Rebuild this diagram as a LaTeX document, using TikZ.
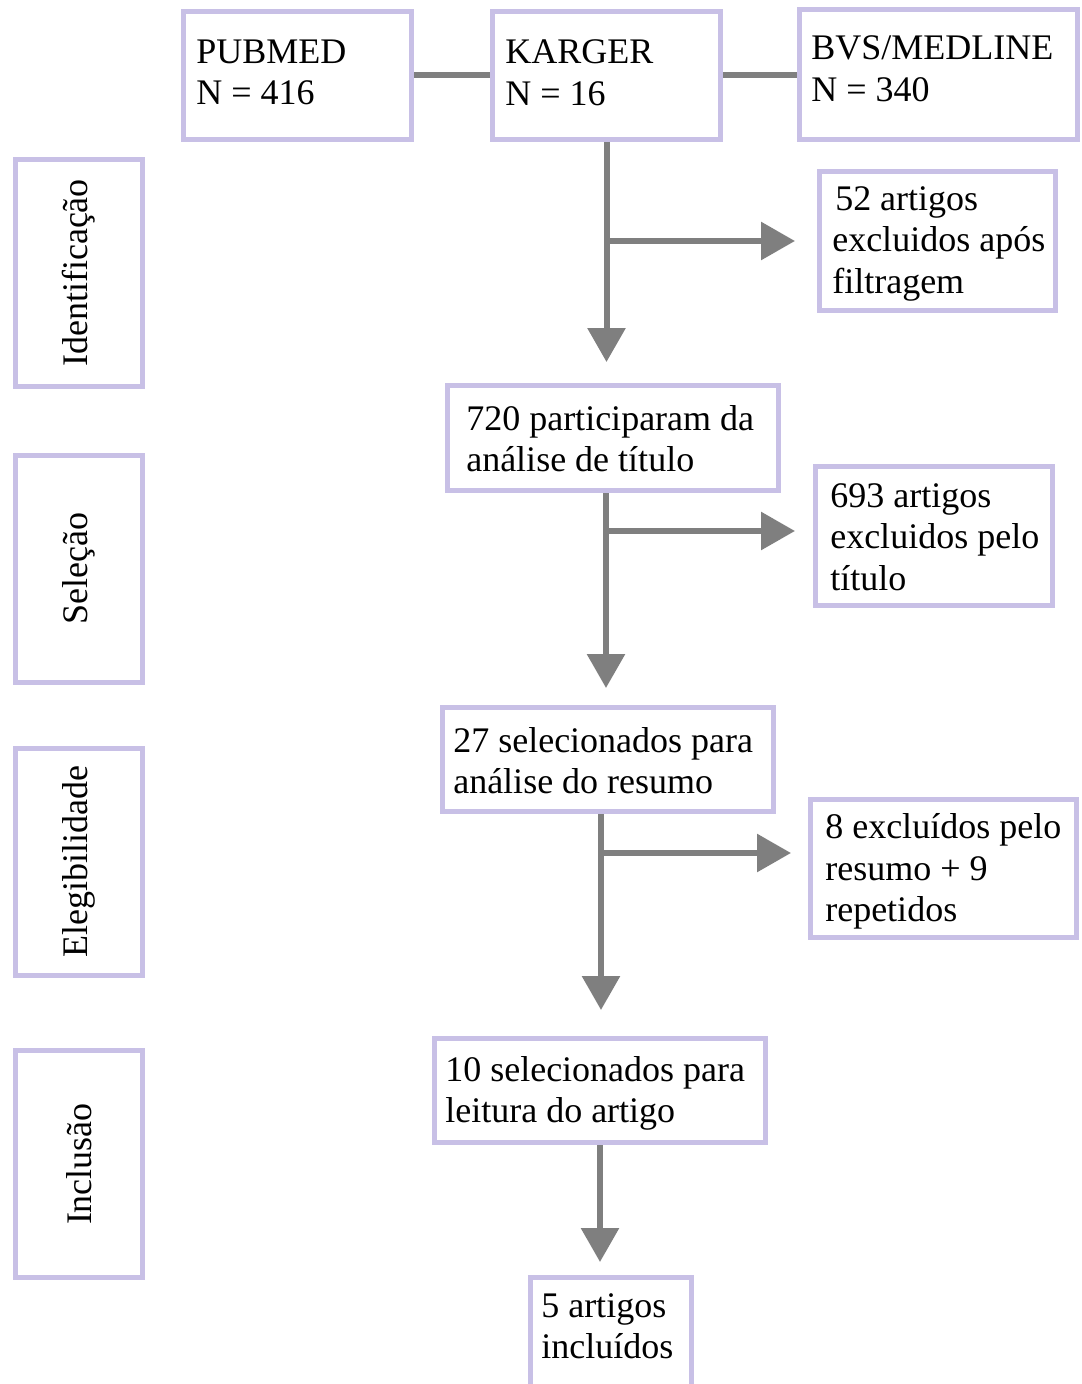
\documentclass[tikz,border=0pt]{standalone}
\usepackage{fontspec}
\setmainfont{Liberation Serif}
\usetikzlibrary{arrows.meta,calc}
\definecolor{boxc}{HTML}{C8C0E6}
\definecolor{arrc}{HTML}{7F7F7F}
\begin{document}
\begin{tikzpicture}[x=0.75pt,y=-0.75pt,
  box/.style={draw=boxc, line width=3.75pt, fill=white, inner sep=0pt},
  txt/.style={anchor=north west, inner sep=0pt, align=left, font=\fontsize{27}{30.9}\selectfont},
  phase/.style={rotate=90, inner sep=0pt, font=\fontsize{27}{30.9}\selectfont},
  link/.style={draw=arrc, line width=4.5pt},
  arr/.style={link, -{Triangle[length=25.5pt,width=27.75pt]}}]
\clip (0,0) rectangle (1081,1384);

% phase boxes
\node[box, minimum width=95.25pt, minimum height=170.25pt] (ph1) at (79,273) {};
\node[phase] (ph1t) at (ph1.center) {Identificação};
\node[box, minimum width=95.25pt, minimum height=170.25pt] (ph2) at (79,568.5) {};
\node[phase] (ph2t) at (ph2.center) {Seleção};
\node[box, minimum width=95.25pt, minimum height=170.25pt] (ph3) at (79,861.5) {};
\node[phase] (ph3t) at (ph3.center) {Elegibilidade};
\node[box, minimum width=95.25pt, minimum height=170.25pt] (ph4) at (79,1164) {};
\node[phase] (ph4t) at (ph4.center) {Inclusão};

% source boxes
\node[box, minimum width=171pt, minimum height=96pt] (pub) at (297.5,75.5) {};
\node[txt] (pubt) at (196,39.7) {PUBMED\\N = 416};
\node[box, minimum width=171pt, minimum height=96pt] (kar) at (606.5,75.5) {};
\node[txt] (kart) at (505,39.7) {KARGER\\N = 16};
\node[box, minimum width=208.5pt, minimum height=97.5pt] (bvs) at (938.5,74.5) {};
\node[txt] (bvst) at (811,35.7) {BVS/MEDLINE\\N = 340};

\draw[link] (pub.east) -- (kar.west);
\draw[link] (kar.east) -- (kar.east -| bvs.west);

% flow boxes
\node[box, minimum width=177pt, minimum height=104.25pt] (ex1) at (937.5,241) {};
\node[txt] (ex1t) at (832,186.5) {\hspace{2.25pt}52 artigos\\excluidos após\\filtragem};

\node[box, minimum width=248.25pt, minimum height=78.75pt] (t720) at (613,438) {};
\node[txt] (t720t) at (466,405.5) {720 participaram da\\análise de título};

\node[box, minimum width=177.75pt, minimum height=104.25pt] (ex2) at (934,536) {};
\node[txt] (ex2t) at (830,483.5) {693 artigos\\excluidos pelo\\título};

\node[box, minimum width=248.25pt, minimum height=78pt] (r27) at (608,759.5) {};
\node[txt] (r27t) at (453,727.5) {27 selecionados para\\análise do resumo};

\node[box, minimum width=199.5pt, minimum height=103.5pt] (ex3) at (943.5,868.5) {};
\node[txt] (ex3t) at (825,813.5) {8 excluídos pelo\\resumo + 9\\repetidos};

\node[box, minimum width=248.25pt, minimum height=78pt] (l10) at (600,1090.5) {};
\node[txt] (l10t) at (445,1056.5) {10 selecionados para\\leitura do artigo};

\node[box, minimum width=120.75pt, minimum height=104.25pt] (inc5) at (611,1347) {};
\node[txt] (inc5t) at (541,1293.5) {5 artigos\\incluídos};

% arrows
\coordinate (tip1) at (606.5,362);
\coordinate (b1) at (606.5,241);
\coordinate (e1) at (795,241);
\draw[arr] (kar.south) -- (tip1);
\draw[arr] (b1) -- (e1);

\coordinate (tip2) at (606,688);
\coordinate (b2) at (606,531);
\coordinate (e2) at (795,531);
\draw[arr] (t720.south -| tip2) -- (tip2);
\draw[arr] (b2) -- (e2);

\coordinate (tip3) at (601,1010);
\coordinate (b3) at (601,853);
\coordinate (e3) at (791,853);
\draw[arr] (r27.south -| tip3) -- (tip3);
\draw[arr] (b3) -- (e3);

\coordinate (tip4) at (600,1262);
\draw[arr] (l10.south) -- (tip4);
\end{tikzpicture}
\end{document}
